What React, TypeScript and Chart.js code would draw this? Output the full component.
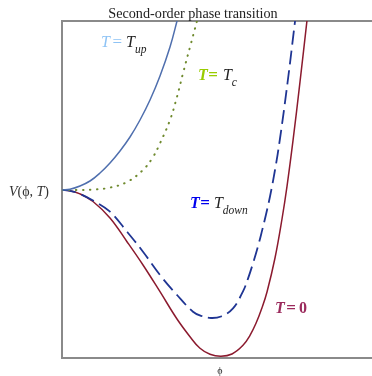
import React, { useEffect, useRef } from "react";
import { Chart, registerables } from "chart.js";

Chart.register(...registerables);

// ---- data (phi, V) ----
const phiUp = [0, 0.08, 0.18, 0.28, 0.38, 0.48, 0.58, 0.68, 0.78, 0.88, 0.98, 1.08, 1.15, 1.19];
const vUp = [0, 0.008, 0.04, 0.09, 0.17, 0.27, 0.39, 0.53, 0.7, 0.9, 1.14, 1.43, 1.69, 1.85];

const phiC = [0, 0.15, 0.31, 0.48, 0.65, 0.81, 0.91, 0.98, 1.08, 1.15, 1.21, 1.28, 1.35, 1.41];
const vC = [0, 0, 0.004, 0.024, 0.08, 0.2, 0.33, 0.467, 0.7, 0.933, 1.167, 1.43, 1.69, 1.92];

const phiDown = [0, 0.08, 0.18, 0.31, 0.48, 0.65, 0.81, 0.98, 1.15, 1.31, 1.39, 1.49, 1.59, 1.71, 1.81, 1.86, 1.91, 1.96, 2.0, 2.04, 2.08, 2.13, 2.18, 2.255, 2.33, 2.38];
const vDown = [0, -0.008, -0.039, -0.105, -0.217, -0.417, -0.617, -0.85, -1.05, -1.217, -1.258, -1.28, -1.265, -1.183, -1.013, -0.886, -0.733, -0.563, -0.409, -0.245, -0.065, 0.2, 0.515, 1.07, 1.685, 2.1];

const phiZero = [0, 0.08, 0.18, 0.31, 0.48, 0.65, 0.81, 0.98, 1.15, 1.28, 1.38, 1.48, 1.59, 1.7, 1.81, 1.88, 1.94, 2.0, 2.05, 2.13, 2.2, 2.25, 2.31, 2.38, 2.45, 2.5];
const vZero = [0, -0.008, -0.039, -0.115, -0.28, -0.517, -0.75, -1.017, -1.29, -1.467, -1.583, -1.643, -1.663, -1.64, -1.553, -1.453, -1.333, -1.177, -1.02, -0.68, -0.29, 0.037, 0.493, 1.081, 1.697, 2.14];

const phiRange = [0, 3.1];
const vRange = [-1.68, 1.69];

const titleText = "Second-order phase transition";

type Seg = { t: string; style: string; size: number; color: string; dy?: number; dx?: number };

const SERIF = '"Liberation Serif", "Times New Roman", serif';

const curveLabels: { phi: number; v: number; segs: Seg[] }[] = [
  {
    phi: 0.39, v: 1.435,
    segs: [
      { t: "T", style: "italic", size: 16, color: "#8ec3f5" },
      { t: "=", style: "normal", size: 17, color: "#8ec3f5", dx: 2.5 },
      { t: "T", style: "italic", size: 16, color: "#222", dx: 4 },
      { t: "up", style: "italic", size: 11.5, color: "#222", dy: 6 },
    ],
  },
  {
    phi: 1.36, v: 1.1,
    segs: [
      { t: "T", style: "italic bold", size: 16, color: "#99cc00" },
      { t: "=", style: "bold", size: 17, color: "#99cc00", dx: 0.5 },
      { t: "T", style: "italic", size: 16, color: "#222", dx: 5 },
      { t: "c", style: "italic", size: 11.5, color: "#222", dy: 6 },
    ],
  },
  {
    phi: 1.28, v: -0.18,
    segs: [
      { t: "T", style: "italic bold", size: 16, color: "#0000ee" },
      { t: "=", style: "bold", size: 17, color: "#0000ee", dx: 0.5 },
      { t: "T", style: "italic", size: 16, color: "#222", dx: 4 },
      { t: "down", style: "italic", size: 11.5, color: "#222", dy: 6 },
    ],
  },
  {
    phi: 2.13, v: -1.23,
    segs: [
      { t: "T", style: "italic bold", size: 16, color: "#9b2a5c" },
      { t: "=", style: "bold", size: 17, color: "#9b2a5c", dx: 1.5 },
      { t: "0", style: "bold", size: 16, color: "#9b2a5c", dx: 3 },
    ],
  },
];

const yLabelSegs: Seg[] = [
  { t: "V", style: "italic", size: 14, color: "#333" },
  { t: "(", style: "normal", size: 14, color: "#333" },
  { t: "ϕ", style: "normal", size: 14, color: "#333" },
  { t: ", ", style: "normal", size: 14, color: "#333" },
  { t: "T", style: "italic", size: 14, color: "#333" },
  { t: ")", style: "normal", size: 14, color: "#333" },
];

function drawSegs(ctx: CanvasRenderingContext2D, segs: Seg[], x: number, y: number) {
  let px = x;
  for (const s of segs) {
    px += s.dx || 0;
    ctx.font = `${s.style} ${s.size}px ${SERIF}`;
    ctx.fillStyle = s.color;
    ctx.fillText(s.t, px, y + (s.dy || 0));
    px += ctx.measureText(s.t).width;
  }
}

const pts = (xs: number[], ys: number[]) => xs.map((x, i) => ({ x, y: ys[i] }));

export default function App() {
  const ref = useRef<HTMLCanvasElement>(null);

  useEffect(() => {
    if (!ref.current) return;
    const labelPlugin = {
      id: "textLabels",
      afterDraw(chart: any) {
        const ctx: CanvasRenderingContext2D = chart.ctx;
        const xs = chart.scales.x;
        const ys = chart.scales.y;
        const area = chart.chartArea;
        ctx.save();
        ctx.textBaseline = "alphabetic";
        for (const lab of curveLabels) {
          drawSegs(ctx, lab.segs, xs.getPixelForValue(lab.phi), ys.getPixelForValue(lab.v));
        }
        // title
        ctx.font = `14.2px ${SERIF}`;
        ctx.fillStyle = "#222";
        ctx.textAlign = "center";
        ctx.fillText(titleText, 193, area.top - 3);
        // x label
        ctx.font = `10px ${SERIF}`;
        ctx.textBaseline = "middle";
        ctx.fillText("ϕ", 220, area.bottom + 13);
        // y label
        ctx.textAlign = "left";
        ctx.textBaseline = "alphabetic";
        drawSegs(ctx, yLabelSegs, 9, ys.getPixelForValue(0) + 6);
        ctx.restore();
      },
    };

    const axisCommon = {
      display: true,
      ticks: { display: false },
      grid: { display: false, drawTicks: false },
      border: { display: true, color: "#8a8a8a", width: 2 },
    };

    const lineCommon = { pointRadius: 0, tension: 0.4, cubicInterpolationMode: "default" };

    const chart = new Chart(ref.current, {
      type: "line",
      data: {
        datasets: [
          {
            label: "T = T_up",
            data: pts(phiUp, vUp),
            borderColor: "#4f6fae",
            borderWidth: 1.5,
            ...lineCommon,
          },
          {
            label: "T = T_c",
            data: pts(phiC, vC),
            borderColor: "#6f8a2e",
            borderWidth: 2,
            borderDash: [0.5, 6.5],
            borderCapStyle: "round",
            ...lineCommon,
          },
          {
            label: "T = T_down",
            data: pts(phiDown, vDown),
            borderColor: "#1f3593",
            borderWidth: 1.8,
            borderDash: [14, 6],
            ...lineCommon,
          },
          {
            label: "T = 0",
            data: pts(phiZero, vZero),
            borderColor: "#8b1a2e",
            borderWidth: 1.5,
            ...lineCommon,
          },
        ],
      },
      options: {
        animation: false,
        responsive: false,
        maintainAspectRatio: false,
        layout: { padding: { left: 62, top: 21, right: 0, bottom: 18 } },
        plugins: { legend: { display: false }, tooltip: { enabled: false }, title: { display: false } },
        scales: {
          x: {
            ...axisCommon,
            type: "linear",
            position: "bottom",
            min: phiRange[0],
            max: phiRange[1],
            afterFit: (s: any) => { s.height = 0; },
          },
          x2: {
            ...axisCommon,
            type: "linear",
            position: "top",
            min: phiRange[0],
            max: phiRange[1],
            afterFit: (s: any) => { s.height = 0; },
          },
          y: {
            ...axisCommon,
            type: "linear",
            position: "left",
            min: vRange[0],
            max: vRange[1],
            afterFit: (s: any) => { s.width = 0; },
          },
        },
      } as any,
      plugins: [labelPlugin],
    });
    return () => chart.destroy();
  }, []);

  return (
    <div style={{ position: "absolute", left: 0, top: 0, width: 372, height: 376, background: "#fff" }}>
      <canvas ref={ref} width={372} height={376} style={{ width: 372, height: 376, display: "block" }} />
    </div>
  );
}
